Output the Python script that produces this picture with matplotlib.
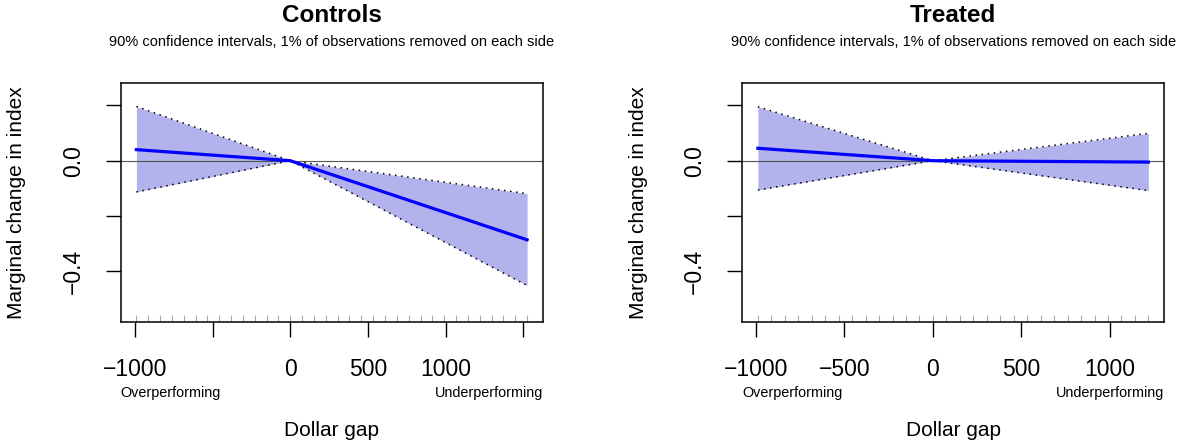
import numpy as np
import matplotlib
matplotlib.use("Agg")
import matplotlib.pyplot as plt

plt.rcParams['font.family'] = ['Liberation Sans', 'DejaVu Sans']

# marginal effect estimates (piecewise linear, knot at 0)
ctrl_x = [-991, 0, 1525]
ctrl_fit = [0.040, 0.0, -0.286]
ctrl_lo = [-0.113, 0.0, -0.451]
ctrl_hi = [0.196, 0.0, -0.119]
ctrl_nrug = 34

treat_x = [-989, 0, 1217]
treat_fit = [0.045, 0.0, -0.005]
treat_lo = [-0.106, 0.0, -0.108]
treat_hi = [0.195, 0.0, 0.099]
treat_nrug = 30

titles = ["Controls", "Treated"]
subtitle = "90% confidence intervals, 1% of observations removed on each side"
ylim_data = (-0.55, 0.25)
yticks = [-0.4, -0.2, 0.0, 0.2]
ytick_labels = ["\u22120.4", "", "0.0", ""]
xticks_list = [[-1000, -500, 0, 500, 1000, 1500], [-1000, -500, 0, 500, 1000]]
xlabels_list = [["\u22121000", "", "0", "500", "1000", ""],
                ["\u22121000", "\u2212500", "0", "500", "1000"]]

fill_col = '#b2b2ec'


def padded(lo, hi, f=0.04):
    d = hi - lo
    return lo - f * d, hi + f * d


def panel(ax, x, fit, lo, hi, nrug, title, xt, xl):
    ax.fill_between(x, lo, hi, color=fill_col, lw=0, zorder=1)
    ax.plot(x, lo, color='black', ls=(0, (1, 3)), lw=1.1, zorder=2)
    ax.plot(x, hi, color='black', ls=(0, (1, 3)), lw=1.1, zorder=2)
    ax.axhline(0, color='#555555', lw=0.8, zorder=2)
    ax.plot(x, fit, color='#0000ff', lw=2.3, zorder=3)
    rug = np.linspace(x[0], x[-1], nrug)
    ax.vlines(rug, 0, 0.026, transform=ax.get_xaxis_transform(),
              color='#aaaaaa', lw=0.8, zorder=2)

    ax.set_xlim(*padded(x[0], x[-1]))
    ax.set_ylim(*padded(*ylim_data))
    ax.set_xticks(xt)
    ax.set_xticklabels(xl)
    ax.set_yticks(yticks)
    ax.set_yticklabels(ytick_labels, rotation=90, va='center')
    ax.tick_params(length=11, width=1, labelsize=16.5, pad=15, direction='out')
    for s in ax.spines.values():
        s.set_linewidth(1.1)

    ax.set_title(title, fontsize=17.5, fontweight='bold', pad=44)
    ax.text(0.5, 1.17, subtitle, transform=ax.transAxes, ha='center',
            va='center', fontsize=10.5)
    ax.text(0.0, -0.3, "Overperforming", transform=ax.transAxes, ha='left',
            va='center', fontsize=10.4)
    ax.text(1.0, -0.3, "Underperforming", transform=ax.transAxes, ha='right',
            va='center', fontsize=10.4)
    ax.text(0.5, -0.455, "Dollar gap", transform=ax.transAxes, ha='center',
            va='center', fontsize=15)
    ax.text(-0.246, 0.5, "Marginal change in index", transform=ax.transAxes,
            ha='center', va='center', rotation=90, fontsize=15)


fig = plt.figure(figsize=(11.78, 4.41), dpi=100)
ax1 = fig.add_axes([0.1025, 0.2705, 0.3582, 0.542])
ax2 = fig.add_axes([0.6301, 0.2705, 0.3580, 0.542])

panel(ax1, ctrl_x, ctrl_fit, ctrl_lo, ctrl_hi, ctrl_nrug, titles[0],
      xticks_list[0], xlabels_list[0])
panel(ax2, treat_x, treat_fit, treat_lo, treat_hi, treat_nrug, titles[1],
      xticks_list[1], xlabels_list[1])

fig.savefig("out.png", dpi=100)
